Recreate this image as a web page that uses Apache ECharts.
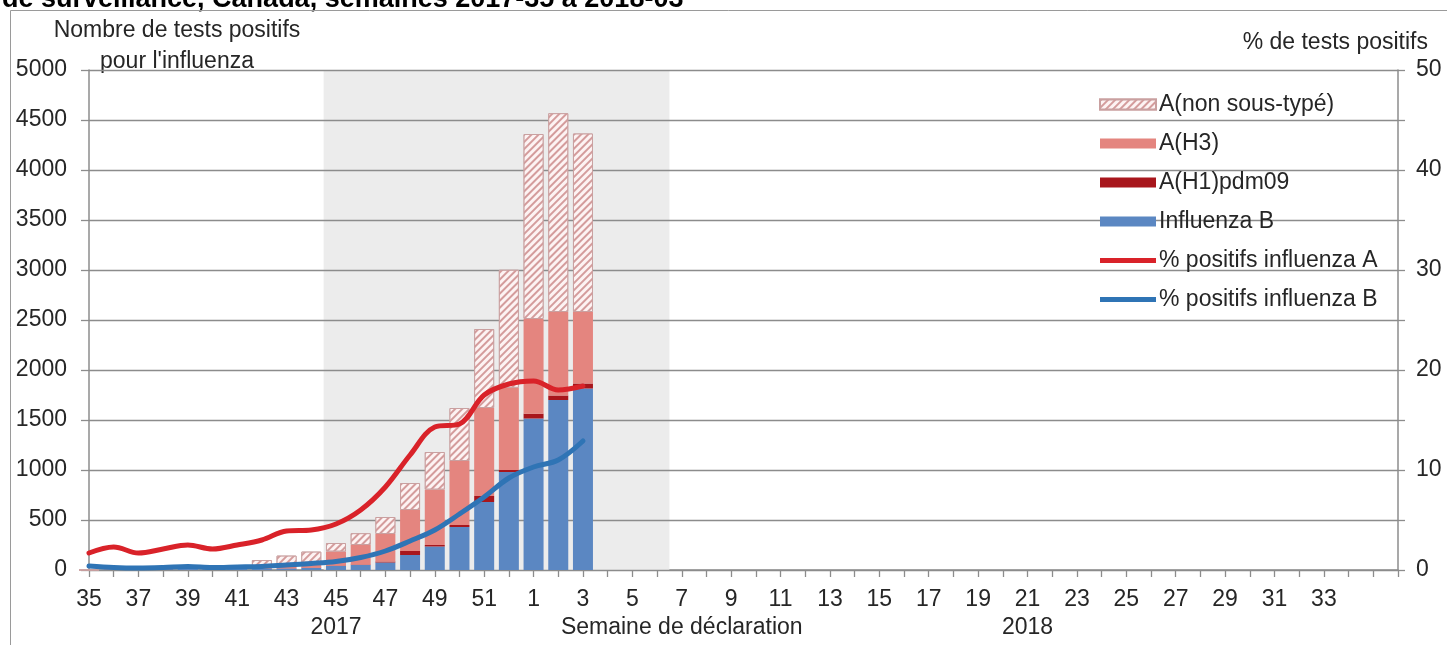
<!DOCTYPE html>
<html>
<head>
<meta charset="utf-8">
<script src="https://cdn.jsdelivr.net/npm/echarts@6/dist/echarts.min.js"></script>
<style>
html,body{margin:0;padding:0;background:#fff;}
#chart{width:1447px;height:645px;}
</style>
</head>
<body>
<div id="chart"></div>
<script>
// Categories: reporting weeks 2017-35 .. 2018-34 (plus two unlabeled slots at the end of the axis)
const weeks = ['35','36','37','38','39','40','41','42','43','44','45','46','47','48','49','50','51','52',
  '1','2','3','4','5','6','7','8','9','10','11','12','13','14','15','16','17','18','19','20',
  '21','22','23','24','25','26','27','28','29','30','31','32','33','34','',''];

// Number of positive tests (weeks 35 .. 3)
const influenzaB   = [0,5,5,8,10,8,10,10,15,20,40,50,75,150,235,430,680,980,1515,1700,1815];
const aH1pdm09     = [0,1,1,1,1,1,2,2,3,5,5,5,10,40,15,20,60,20,48,45,50];
const aH3          = [0,5,5,5,8,8,10,20,30,50,140,195,275,410,555,640,880,822,947,835,715];
const aUnsubtyped  = [0,12,12,15,18,15,20,68,96,109,85,118,170,270,375,530,790,1180,1850,1988,1785];

// % positive tests
const pctA = [1.7,2.3,1.7,2.1,2.5,2.1,2.5,3.0,3.9,4.0,4.6,6.0,8.3,11.5,14.3,14.6,17.5,18.6,18.9,18.0,18.4];
const pctB = [0.4,0.25,0.2,0.25,0.35,0.25,0.3,0.35,0.5,0.65,0.85,1.25,1.9,2.9,4.0,5.6,7.3,9.2,10.3,11.0,12.9];

// Shaded period (first and last shaded week)
const shadeFrom = '45';
const shadeTo = '6';

// Second line under some week labels
const axisNotes = {'45': '2017', '7': 'Semaine de déclaration', '21': '2018'};

const seriesNames = ['A(non sous-typé)','A(H3)','A(H1)pdm09','Influenza B','% positifs influenza A','% positifs influenza B'];

const FONT = "'Liberation Sans', Arial, sans-serif";
const TXT = '#262626';
const GRID = '#8c8c8c';
const LINE_ICON = 'path://M0,0 L56,0 L56,5 L0,5 Z';

const chart = echarts.init(document.getElementById('chart'), null, {renderer: 'canvas'});

const shadeStart = weeks.indexOf(shadeFrom) - 0.5;
const shadeEnd = weeks.indexOf(shadeTo) + 0.5;

const option = {
  animation: false,
  backgroundColor: '#ffffff',
  textStyle: {fontFamily: FONT},
  grid: {left: 89, right: 49, top: 70, bottom: 75, containLabel: false},
  legend: {
    orient: 'vertical',
    left: 1094,
    top: 88,
    itemWidth: 56,
    itemHeight: 10,
    itemGap: 16,
    symbolKeepAspect: true,
    textStyle: {fontSize: 23, color: TXT, fontFamily: FONT, padding: [0,0,0,-2]},
    data: [
      {name: seriesNames[0], icon: 'rect'},
      {name: seriesNames[1], icon: 'rect'},
      {name: seriesNames[2], icon: 'rect'},
      {name: seriesNames[3], icon: 'rect'},
      {name: seriesNames[4], icon: LINE_ICON},
      {name: seriesNames[5], icon: LINE_ICON}
    ]
  },
  graphic: [
    {type: 'text', left: 2, top: -14, silent: true,
     style: {text: 'de surveillance, Canada, semaines 2017-35 à 2018-03', font: "bold 27px 'Liberation Sans', Arial", fill: '#000'}},
    {type: 'polyline', silent: true, z: 0,
     shape: {points: [[10.5, 645], [10.5, 10.5], [1447, 10.5]]},
     style: {stroke: '#9a9a9a', lineWidth: 1, fill: null}},
    {type: 'text', x: 177, y: 31, silent: true,
     style: {text: 'Nombre de tests positifs', font: "23px 'Liberation Sans', Arial", fill: TXT, align: 'center', verticalAlign: 'middle'}},
    {type: 'text', x: 177, y: 62, silent: true,
     style: {text: "pour l'influenza", font: "23px 'Liberation Sans', Arial", fill: TXT, align: 'center', verticalAlign: 'middle'}},
    {type: 'text', x: 1428, y: 43, silent: true,
     style: {text: '% de tests positifs', font: "23px 'Liberation Sans', Arial", fill: TXT, align: 'right', verticalAlign: 'middle'}}
  ],
  xAxis: [
    {
      type: 'category',
      data: weeks,
      boundaryGap: false,
      axisLine: {show: true, lineStyle: {color: GRID, width: 1.5}},
      axisTick: {show: true, interval: 0, length: 7, lineStyle: {color: GRID, width: 1.3}},
      axisLabel: {
        interval: 1, fontSize: 23, color: TXT, fontFamily: FONT, margin: 16, lineHeight: 28,
        formatter: function (v) { return axisNotes[v] ? v + '\n' + axisNotes[v] : v; }
      },
      splitLine: {show: false}
    },
    {
      type: 'value', show: false, min: 0, max: weeks.length - 1
    }
  ],
  yAxis: [
    {
      type: 'value', min: 0, max: 5000, interval: 500, z: 1.5,
      axisLine: {show: true, lineStyle: {color: GRID, width: 1.5}},
      axisTick: {show: true, length: 8, lineStyle: {color: GRID, width: 1.3}},
      axisLabel: {fontSize: 23, color: TXT, fontFamily: FONT, margin: 22,
        formatter: function (v) { return String(v); }},
      splitLine: {show: true, lineStyle: {color: GRID, width: 1.4}}
    },
    {
      type: 'value', min: 0, max: 50, interval: 5, position: 'right',
      axisLine: {show: true, lineStyle: {color: GRID, width: 1.5}},
      axisTick: {show: true, length: 7, lineStyle: {color: GRID, width: 1.3}},
      axisLabel: {fontSize: 23, color: TXT, fontFamily: FONT, margin: 18,
        formatter: function (v) { return v % 10 === 0 ? String(v) : ''; }},
      splitLine: {show: false}
    }
  ],
  series: [
    {
      name: 'shade', type: 'line', xAxisIndex: 1, yAxisIndex: 0, data: [], silent: true,
      markArea: {silent: true, z: 1, itemStyle: {color: '#ececec'},
        data: [[{xAxis: shadeStart}, {xAxis: shadeEnd}]]}
    },
    {
      name: seriesNames[3], type: 'bar', stack: 'n', barWidth: 20, z: 2, clip: true,
      itemStyle: {color: '#5b87c2'}, data: influenzaB
    },
    {
      name: seriesNames[2], type: 'bar', stack: 'n', barWidth: 20, z: 2, clip: true,
      itemStyle: {color: '#a8161c'}, data: aH1pdm09
    },
    {
      name: seriesNames[1], type: 'bar', stack: 'n', barWidth: 20, z: 2, clip: true,
      itemStyle: {color: '#e4857f'}, data: aH3
    },
    {
      name: seriesNames[0], type: 'bar', stack: 'n', barWidth: 20, z: 2, clip: true,
      itemStyle: {
        color: '#fdf3f3', borderColor: '#c9a0a0', borderWidth: 1,
        decal: {symbol: 'rect', symbolSize: 1, dashArrayX: [[1, 0]], dashArrayY: [1.6, 2.6],
          rotation: -Math.PI / 4, color: '#d49c9c', backgroundColor: '#fdf3f3'}
      },
      data: aUnsubtyped
    },
    {
      name: seriesNames[4], type: 'line', yAxisIndex: 1, z: 3, smooth: 0.35,
      symbol: 'none', showSymbol: false,
      lineStyle: {color: '#d92229', width: 5, cap: 'round'}, itemStyle: {color: '#d92229'},
      data: pctA
    },
    {
      name: seriesNames[5], type: 'line', yAxisIndex: 1, z: 3, smooth: 0.35,
      symbol: 'none', showSymbol: false,
      lineStyle: {color: '#2f74b5', width: 5, cap: 'round'}, itemStyle: {color: '#2f74b5'},
      data: pctB
    }
  ]
};

chart.setOption(option);
</script>
</body>
</html>
